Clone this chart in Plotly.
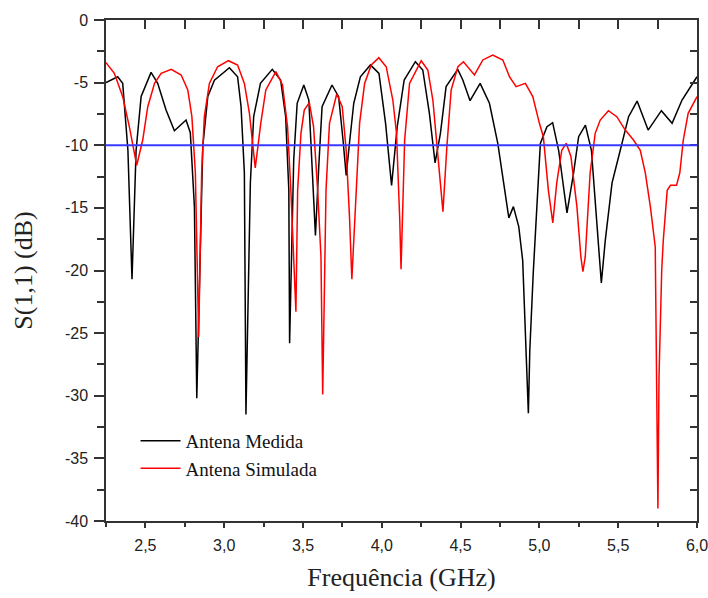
import plotly.graph_objects as go

# Antena Medida (black)
freq_med = [2.25, 2.324, 2.356, 2.389, 2.415, 2.441, 2.473, 2.536, 2.578, 2.631, 2.684, 2.758, 2.785,
            2.811, 2.826, 2.864, 2.896, 2.938, 3.033, 3.085, 3.107, 3.128, 3.138, 3.166, 3.187, 3.23,
            3.305, 3.358, 3.39, 3.41, 3.415, 3.441, 3.463, 3.505, 3.537, 3.558, 3.579, 3.600, 3.621,
            3.684, 3.726, 3.754, 3.774, 3.797, 3.822, 3.864, 3.928, 3.982, 4.024, 4.062, 4.098, 4.142,
            4.213, 4.26, 4.302, 4.338, 4.372, 4.408, 4.482, 4.514, 4.56, 4.624, 4.683, 4.736, 4.778,
            4.806, 4.835, 4.869, 4.894, 4.909, 4.93, 4.939, 4.961, 5.006, 5.048, 5.084, 5.122, 5.175,
            5.217, 5.249, 5.292, 5.33, 5.355, 5.393, 5.418, 5.461, 5.513, 5.566, 5.62, 5.69, 5.774,
            5.842, 5.905, 5.969, 6.0]
s11_med = [-5.0, -4.53, -5.06, -10.4, -20.7, -10.4, -6.1, -4.18, -5.06, -7.19, -8.84, -7.99, -9.0,
           -14.9, -30.2, -10.1, -6.1, -4.8, -3.81, -4.53, -6.92, -12.2, -31.5, -13.0, -7.72, -5.06,
           -3.94, -4.79, -7.72, -13.6, -25.8, -11.2, -6.65, -5.19, -6.39, -11.7, -17.2, -11.7, -6.92,
           -5.19, -6.12, -9.58, -12.4, -9.58, -6.65, -4.53, -3.59, -4.26, -8.25, -13.2, -8.52, -4.79,
           -3.33, -3.99, -7.45, -11.4, -9.05, -5.32, -3.94, -4.79, -6.44, -5.06, -6.65, -9.85, -13.6,
           -15.8, -14.9, -16.5, -19.2, -24.5, -31.4, -26.4, -20.2, -9.85, -8.52, -8.2, -10.4, -15.4,
           -12.2, -9.32, -8.39, -10.4, -14.9, -21.0, -17.6, -13.0, -10.4, -7.72, -6.47, -8.79, -7.24,
           -8.25, -6.39, -5.06, -4.53]

# Antena Simulada (red)
freq_sim = [2.25, 2.303, 2.356, 2.398, 2.445, 2.483, 2.515, 2.558, 2.6, 2.664, 2.727, 2.769, 2.795,
            2.817, 2.838, 2.857, 2.874, 2.906, 2.958, 3.027, 3.085, 3.128, 3.16, 3.197, 3.232, 3.264,
            3.328, 3.37, 3.402, 3.423, 3.455, 3.466, 3.487, 3.508, 3.54, 3.567, 3.593, 3.614, 3.625,
            3.646, 3.668, 3.714, 3.749, 3.774, 3.795, 3.81, 3.838, 3.859, 3.891, 3.933, 3.981, 4.028,
            4.07, 4.093, 4.114, 4.122, 4.145, 4.176, 4.25, 4.292, 4.324, 4.352, 4.388, 4.413, 4.44,
            4.483, 4.518, 4.588, 4.641, 4.704, 4.768, 4.81, 4.852, 4.911, 4.958, 5.0, 5.025, 5.057,
            5.085, 5.11, 5.142, 5.17, 5.2, 5.238, 5.263, 5.276, 5.291, 5.322, 5.354, 5.386, 5.438,
            5.491, 5.545, 5.597, 5.64, 5.672, 5.704, 5.735, 5.739, 5.748, 5.752, 5.759, 5.776, 5.786,
            5.811, 5.832, 5.87, 5.891, 5.913, 5.944, 6.0]
s11_sim = [-3.4, -4.26, -6.12, -8.52, -11.6, -9.58, -6.92, -5.06, -4.26, -3.94, -4.39, -5.59, -7.72,
           -12.2, -25.3, -12.2, -7.72, -5.06, -3.73, -3.25, -3.59, -5.06, -7.45, -11.8, -8.25, -5.59,
           -4.12, -5.19, -8.52, -13.6, -23.3, -13.6, -9.05, -7.19, -6.6, -8.52, -13.6, -18.9, -29.9,
           -13.6, -8.25, -5.91, -6.92, -10.4, -15.7, -20.7, -13.6, -8.25, -5.06, -3.59, -3.01, -3.73,
           -6.39, -9.0, -16.0, -19.9, -9.58, -5.06, -3.25, -3.99, -6.39, -10.1, -15.3, -10.1, -5.59,
           -3.73, -3.33, -4.39, -3.19, -2.8, -3.19, -4.53, -5.32, -5.06, -6.12, -8.25, -9.32, -13.6,
           -16.2, -13.0, -10.4, -9.85, -10.9, -14.9, -18.9, -20.1, -18.9, -12.2, -9.05, -7.99, -7.24,
           -7.72, -8.79, -9.58, -10.4, -12.2, -14.9, -18.1, -24.5, -31.4, -39.0, -28.5, -20.0, -17.6,
           -13.6, -13.2, -13.2, -12.2, -9.58, -7.45, -6.12]

limit_db = -10

x_ticks = [2.5, 3.0, 3.5, 4.0, 4.5, 5.0, 5.5, 6.0]
x_labels = ["2,5", "3,0", "3,5", "4,0", "4,5", "5,0", "5,5", "6,0"]
y_ticks = [0, -5, -10, -15, -20, -25, -30, -35, -40]
y_labels = ["0", "-5", "-10", "-15", "-20", "-25", "-30", "-35", "-40"]

fig = go.Figure()
fig.add_trace(go.Scatter(x=freq_med, y=s11_med, mode="lines", name="Antena Medida",
                         line=dict(color="black", width=1.5)))
fig.add_trace(go.Scatter(x=freq_sim, y=s11_sim, mode="lines", name="Antena Simulada",
                         line=dict(color="red", width=1.5)))
# dummy trace so the mirrored axes get drawn
fig.add_trace(go.Scatter(x=[None], y=[None], xaxis="x2", yaxis="y2", showlegend=False))
fig.add_hline(y=limit_db, line=dict(color="#3a3aff", width=2))

tick_font = dict(family="Liberation Sans, Arial", size=16, color="#222")
axis_common = dict(showgrid=False, zeroline=False, linecolor="#333", linewidth=1.5,
                   tickcolor="#333", tickwidth=1.5, automargin=False)

fig.update_layout(
    width=708, height=598,
    margin=dict(l=106, r=11, t=20, b=77),
    plot_bgcolor="white", paper_bgcolor="white",
    xaxis=dict(range=[2.25, 6.0], tickvals=x_ticks, ticktext=x_labels, ticks="outside", ticklen=5,
               minor=dict(dtick=0.25, tick0=2.25, ticks="outside", ticklen=4, tickcolor="#333"),
               tickfont=tick_font, ticklabelstandoff=4, ticklabeloverflow="allow",
               title=dict(text="Frequência (GHz)", standoff=15,
                          font=dict(family="Liberation Serif, Times New Roman", size=26, color="#222")),
               **axis_common),
    yaxis=dict(range=[-40, 0], tickvals=y_ticks, ticktext=y_labels, ticks="outside", ticklen=10,
               minor=dict(dtick=2.5, ticks="outside", ticklen=7, tickcolor="#333"),
               tickfont=tick_font, ticklabelstandoff=3, ticklabeloverflow="allow",
               title=dict(text="S(1,1) (dB)", standoff=25,
                          font=dict(family="Liberation Serif, Times New Roman", size=26, color="#222")),
               **axis_common),
    xaxis2=dict(range=[2.25, 6.0], overlaying="x", side="top", anchor="y", tickvals=x_ticks,
                showticklabels=False, ticks="inside", ticklen=9,
                minor=dict(dtick=0.25, tick0=2.25, ticks="inside", ticklen=9, tickcolor="#333"),
                **axis_common),
    yaxis2=dict(range=[-40, 0], overlaying="y", side="right", anchor="x", tickvals=y_ticks,
                showticklabels=False, ticks="inside", ticklen=7,
                minor=dict(dtick=2.5, ticks="inside", ticklen=7, tickcolor="#333"),
                **axis_common),
    legend=dict(x=0.05, y=0.198, xanchor="left", yanchor="top", bgcolor="rgba(0,0,0,0)",
                font=dict(family="Liberation Serif, Times New Roman", size=19, color="#111"),
                itemwidth=40, tracegroupgap=0),
    showlegend=True,
)

# drop the page's default 8px body margin so the figure fills the window exactly
fig.write_html("out.html", config={"displayModeBar": False},
               post_script="document.body.style.margin='0';document.body.style.overflow='hidden';")
